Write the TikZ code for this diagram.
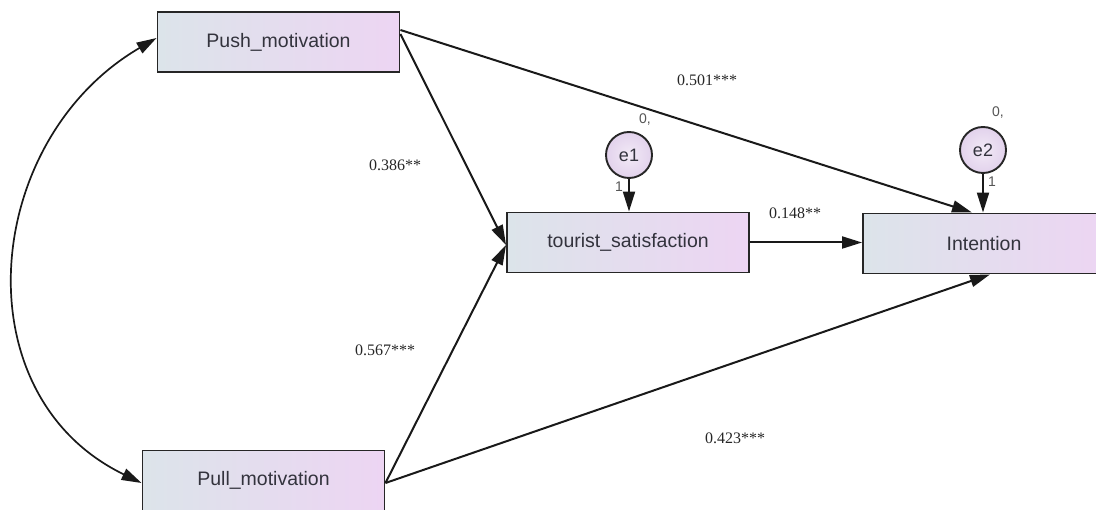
\documentclass[tikz,border=0pt]{standalone}
\usepackage{fontspec}
\setmainfont{Liberation Serif}
\newfontfamily\boxfont{Liberation Sans}
\usetikzlibrary{arrows.meta}

\definecolor{boxL}{HTML}{DCE4EA}
\definecolor{boxR}{HTML}{EDD5F3}
\definecolor{boxtext}{HTML}{33333D}
\definecolor{errIn}{HTML}{F2EAF6}
\definecolor{errOut}{HTML}{E2D2EC}
\definecolor{notegray}{HTML}{555555}

\tikzset{
  var/.style={draw=black!85, line width=1.9pt, minimum width=242pt, minimum height=60pt,
    inner sep=0pt, left color=boxL, right color=boxR, text=boxtext,
    font=\boxfont\fontsize{19.5}{22}\selectfont},
  err/.style={circle, draw=black!85, line width=1.9pt, minimum size=46pt, inner sep=0pt,
    inner color=errIn, outer color=errOut, text=boxtext,
    font=\boxfont\fontsize{18}{20}\selectfont},
  conn/.style={line width=2pt, draw=black!90, -{Triangle[length=20pt,width=12pt]}},
  coefl/.style={font=\fontsize{16}{18}\selectfont, text=black!85},
  smallnote/.style={font=\boxfont\fontsize{14}{16}\selectfont, text=notegray}
}

\begin{document}
\begin{tikzpicture}[x=1pt, y=-1pt]
  \useasboundingbox (0,0) rectangle (1096,510);
  \clip (0,0) rectangle (1096,510);

  % observed variables
  \node[var] (push)   at (278.5,42)  {Push\_motivation};
  \node[var] (pull)   at (263.5,480.5) {Pull\_motivation};
  \node[var] (tour)   at (628,242.5) {tourist\_satisfaction};
  \node[var] (intent) at (984,243.5) {Intention};

  % error terms
  \node[err] (e1) at (629,155) {e1};
  \node[err] (e2) at (983,150) {e2};

  % structural paths
  \draw[conn] ([yshift=12pt]push.east) -- ([xshift=-12pt]intent.north);
  \draw[conn] ([yshift=8pt]push.east) -- ([yshift=-2.5pt]tour.west);
  \draw[conn] ([yshift=-2.5pt]pull.east) -- ([yshift=-2.5pt]tour.west);
  \draw[conn] ([yshift=-2.5pt]pull.east) -- ([xshift=6pt]intent.south);
  \draw[conn] (tour.east) -- (tour.east -| intent.west);
  \draw[conn] (e1.south) -- (e1.south |- tour.north);
  \draw[conn] (e2.south) -- (e2.south |- intent.north);

  % covariance between the two motivations
  \draw[line width=1.7pt, draw=black!90,
        {Triangle[length=20pt,width=12pt]}-{Triangle[length=20pt,width=12pt]}]
    ([yshift=4pt]push.west) .. controls (-18,140) and (-40,395) .. ([yshift=-2.5pt]pull.west);

  % path coefficients
  \node[coefl] (c1) at (707,80)  {0.501***};
  \node[coefl] (c2) at (395,165) {0.386**};
  \node[coefl] (c3) at (385,350) {0.567***};
  \node[coefl] (c4) at (735,438) {0.423***};
  \node[coefl] (c5) at (795,213) {0.148**};

  % error means and fixed loadings
  \node[smallnote] (m1) at (645,120) {0,};
  \node[smallnote] (m2) at (998,113) {0,};
  \node[smallnote] (l1) at (619,187) {1};
  \node[smallnote] (l2) at (992,182) {1};
\end{tikzpicture}
\end{document}
